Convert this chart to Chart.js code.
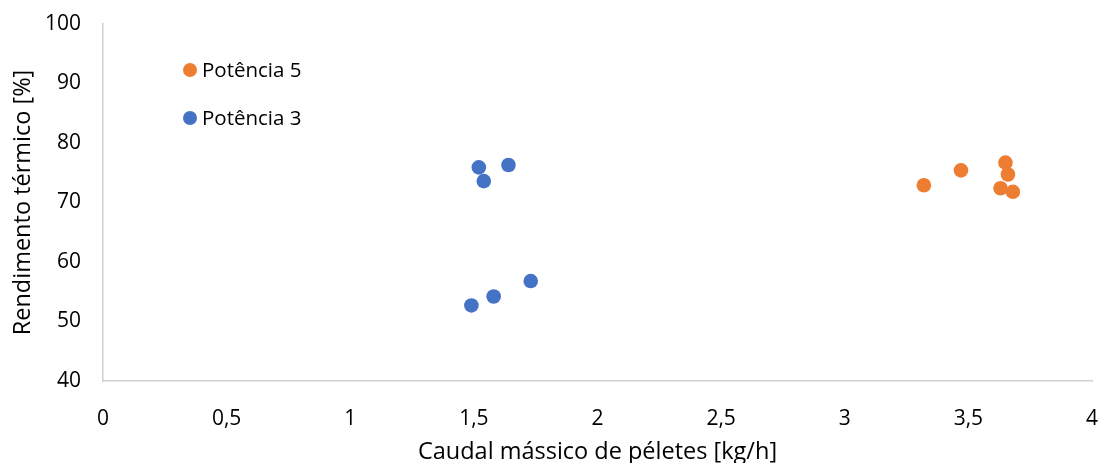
<!DOCTYPE html>
<html>
<head>
<meta charset="utf-8">
<script src="https://cdn.jsdelivr.net/npm/chart.js@4/dist/chart.umd.min.js"></script>
<style>
  html, body { margin: 0; padding: 0; background: #ffffff; }
  #wrap { width: 1101px; height: 463px; position: relative; }
</style>
</head>
<body>
<div id="wrap"><canvas id="c" width="1101" height="463"></canvas></div>
<script>
// Pellet mass flow [kg/h] and thermal efficiency [%] per power level
const seriesNames = ['Potência 5', 'Potência 3'];
const p5Flow = [3.32, 3.47, 3.65, 3.66, 3.63, 3.68];
const p5Eff  = [72.9, 75.4, 76.7, 74.7, 72.4, 71.8];
const p3Flow = [1.52, 1.64, 1.54, 1.73, 1.58, 1.49];
const p3Eff  = [75.9, 76.3, 73.6, 56.8, 54.2, 52.7];
const seriesColors = ['#ED7D31', '#4472C4'];

const FONT = '"Open Sans", "Liberation Sans", sans-serif';
const TEXT = '#000000';
const AXIS_LINE = '#d0d0d0';

function pts(xs, ys) { return xs.map((x, i) => ({ x: x, y: ys[i] })); }

// Legend drawn inside the plot area, top-left
const insideLegend = {
  id: 'insideLegend',
  afterDraw(chart) {
    const ctx = chart.ctx;
    const x0 = chart.chartArea.left + 87;
    const rows = [70, 118];
    ctx.save();
    ctx.font = '20.5px ' + FONT;
    ctx.textBaseline = 'middle';
    ctx.textAlign = 'left';
    chart.data.datasets.forEach((ds, i) => {
      const y = rows[i];
      ctx.beginPath();
      ctx.arc(x0, y, 7, 0, Math.PI * 2);
      ctx.fillStyle = ds.backgroundColor;
      ctx.fill();
      ctx.fillStyle = TEXT;
      ctx.fillText(ds.label, x0 + 12, y + 1);
    });
    ctx.restore();
  }
};

new Chart(document.getElementById('c'), {
  type: 'scatter',
  data: {
    datasets: [
      { label: seriesNames[0], data: pts(p5Flow, p5Eff), backgroundColor: seriesColors[0], borderColor: seriesColors[0], pointRadius: 7.3, pointBorderWidth: 0 },
      { label: seriesNames[1], data: pts(p3Flow, p3Eff), backgroundColor: seriesColors[1], borderColor: seriesColors[1], pointRadius: 7.3, pointBorderWidth: 0 }
    ]
  },
  options: {
    responsive: false,
    animation: false,
    devicePixelRatio: 1,
    layout: { padding: { top: 24, right: 9, bottom: 0, left: 0 } },
    plugins: { legend: { display: false }, tooltip: { enabled: false } },
    scales: {
      x: {
        type: 'linear', min: 0, max: 4,
        ticks: {
          stepSize: 0.5, color: TEXT, padding: 0,
          font: { family: FONT, size: 21 },
          callback: v => String(v).replace('.', ',')
        },
        // tick marks are not drawn; their length only spaces the labels from the axis
        grid: { display: false, drawTicks: true, tickLength: 25 },
        border: { display: true, color: AXIS_LINE, width: 1.5 },
        title: { display: true, text: 'Caudal mássico de péletes [kg/h]', color: TEXT, font: { family: FONT, size: 23.5 }, padding: { top: 4, bottom: -3 } },
        afterFit(s) { s.height = 82; }
      },
      y: {
        type: 'linear', min: 40, max: 100,
        ticks: {
          stepSize: 10, color: TEXT, padding: 0,
          font: { family: FONT, size: 21 }
        },
        grid: { display: false, drawTicks: true, tickLength: 22 },
        border: { display: true, color: AXIS_LINE, width: 1.5 },
        title: { display: true, text: 'Rendimento térmico [%]', color: TEXT, font: { family: FONT, size: 23.5 }, padding: { top: 9, bottom: 4 } },
        afterFit(s) { s.width = 103; }
      }
    }
  },
  plugins: [insideLegend]
});
</script>
</body>
</html>
